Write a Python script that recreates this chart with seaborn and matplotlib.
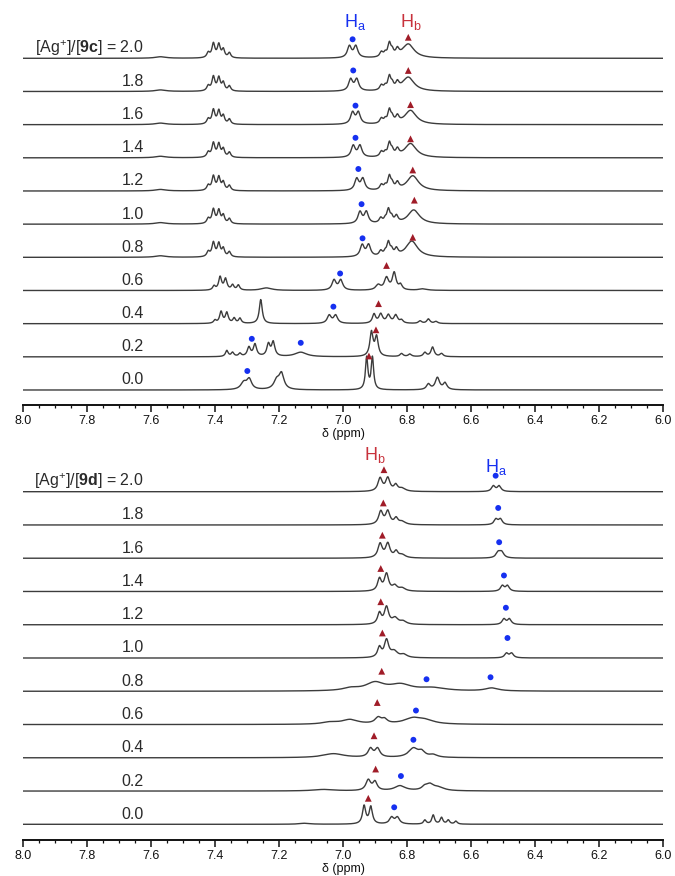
import numpy as np
import pandas as pd
import matplotlib
matplotlib.use("Agg")
import matplotlib.pyplot as plt
import seaborn as sns
from matplotlib.ticker import MultipleLocator, FormatStrFormatter

# ---------------- data ----------------
ratios = ["2.0", "1.8", "1.6", "1.4", "1.2", "1.0", "0.8", "0.6", "0.4", "0.2", "0.0"]

# peaks for compound 9c: (ppm, intensity, half width)
c_20 = [(7.57, 1.5, 0.02), (7.421, 5, 0.0055), (7.405, 14, 0.0055), (7.388, 13, 0.0055), (7.374, 8, 0.005),
        (7.355, 5, 0.005), (6.980, 11.5, 0.0075), (6.960, 11.5, 0.0075), (6.880, 5, 0.006), (6.868, 3.5, 0.005),
        (6.855, 13, 0.0055), (6.846, 5, 0.005), (6.830, 6.5, 0.006), (6.796, 14, 0.022)]
c_18 = [(7.57, 1.5, 0.02), (7.421, 5, 0.0055), (7.405, 14, 0.0055), (7.388, 13, 0.0055), (7.374, 8, 0.005),
        (7.355, 5, 0.005), (6.976, 11.5, 0.0075), (6.957, 11.5, 0.0075), (6.880, 5, 0.006), (6.868, 3.5, 0.005),
        (6.855, 13, 0.0055), (6.846, 5, 0.005), (6.830, 6.5, 0.006), (6.796, 14, 0.022)]
c_16 = [(7.57, 1.5, 0.02), (7.421, 5, 0.0055), (7.405, 14, 0.0055), (7.388, 13, 0.0055), (7.374, 8, 0.005),
        (7.355, 5, 0.005), (6.970, 11.5, 0.0075), (6.952, 11.5, 0.0075), (6.880, 5, 0.006), (6.868, 3.5, 0.005),
        (6.855, 13, 0.0055), (6.846, 5, 0.005), (6.830, 6.5, 0.006), (6.789, 14, 0.022)]
c_14 = [(7.57, 1.5, 0.02), (7.421, 5, 0.0055), (7.405, 14, 0.0055), (7.388, 13, 0.0055), (7.374, 8, 0.005),
        (7.355, 5, 0.005), (6.968, 11.5, 0.0075), (6.947, 11.5, 0.0075), (6.880, 5, 0.006), (6.868, 3.5, 0.005),
        (6.855, 13, 0.0055), (6.846, 5, 0.005), (6.830, 6.5, 0.006), (6.789, 14, 0.022)]
c_12 = [(7.57, 1.5, 0.02), (7.421, 5, 0.0055), (7.405, 14, 0.0055), (7.388, 13, 0.0055), (7.374, 8, 0.005),
        (7.355, 5, 0.005), (6.957, 11.5, 0.0075), (6.938, 11.5, 0.0075), (6.880, 5, 0.006), (6.868, 3.5, 0.005),
        (6.855, 13, 0.0055), (6.846, 5, 0.005), (6.830, 6.5, 0.006), (6.782, 15, 0.022)]
c_10 = [(7.57, 1.5, 0.02), (7.421, 5, 0.0055), (7.405, 14, 0.0055), (7.388, 13, 0.0055), (7.374, 8, 0.005),
        (7.355, 5, 0.005), (6.947, 11.5, 0.0075), (6.927, 11.5, 0.0075), (6.882, 5, 0.006), (6.868, 3.5, 0.005),
        (6.858, 13, 0.0055), (6.848, 5, 0.005), (6.833, 6.5, 0.006), (6.779, 14, 0.022)]
c_08 = [(7.57, 1.5, 0.02), (7.421, 5, 0.0055), (7.405, 14, 0.0055), (7.388, 13, 0.0055), (7.374, 8, 0.005),
        (7.355, 5, 0.005), (6.940, 11.5, 0.0075), (6.920, 11.5, 0.0075), (6.882, 5, 0.006), (6.868, 3.5, 0.005),
        (6.858, 13, 0.0055), (6.848, 5, 0.005), (6.833, 6.5, 0.006), (6.785, 16, 0.022)]
c_06 = [(7.403, 4, 0.005), (7.384, 13, 0.0055), (7.367, 11, 0.0055), (7.345, 5, 0.005), (7.327, 5, 0.005),
        (7.239, 2.5, 0.02), (7.028, 10, 0.0075), (7.007, 10, 0.0075), (6.890, 5, 0.009), (6.864, 12, 0.008),
        (6.840, 17, 0.007), (6.820, 5, 0.006), (6.75, 1.5, 0.015)]
c_04 = [(7.400, 3, 0.005), (7.381, 11.5, 0.0055), (7.363, 10.5, 0.0055), (7.340, 5, 0.005), (7.322, 5, 0.005),
        (7.257, 24, 0.0055), (7.043, 8, 0.0075), (7.023, 8, 0.0075), (6.903, 9, 0.006), (6.882, 9, 0.007),
        (6.858, 8, 0.007), (6.835, 8, 0.007), (6.817, 3, 0.006), (6.759, 2.5, 0.006), (6.733, 4.5, 0.006),
        (6.709, 2, 0.006)]
c_02 = [(7.363, 6, 0.005), (7.345, 4, 0.005), (7.322, 3, 0.005), (7.294, 9, 0.006), (7.275, 12, 0.006),
        (7.233, 12, 0.006), (7.218, 14, 0.006), (7.132, 4.5, 0.022), (6.911, 24, 0.006), (6.895, 19, 0.006),
        (6.817, 3, 0.006), (6.791, 2.5, 0.006), (6.744, 4, 0.006), (6.720, 9.5, 0.006), (6.692, 3, 0.006)]
c_00 = [(7.310, 7, 0.011), (7.293, 10, 0.009), (7.207, 9, 0.011), (7.192, 15, 0.009), (6.926, 32, 0.0045),
        (6.908, 32, 0.0045), (6.733, 5.5, 0.007), (6.705, 12, 0.008), (6.681, 6.5, 0.007)]

# peaks for compound 9d: (ppm, intensity, half width)
d_20 = [(6.884, 13, 0.008), (6.860, 13, 0.008), (6.835, 6, 0.007), (6.815, 3, 0.012),
        (6.530, 5.5, 0.007), (6.512, 5.5, 0.007)]
d_18 = [(6.882, 13, 0.008), (6.860, 13, 0.008), (6.834, 6, 0.007), (6.815, 3, 0.012),
        (6.522, 5.5, 0.007), (6.508, 5.5, 0.007)]
d_16 = [(6.884, 14, 0.008), (6.860, 14, 0.008), (6.834, 6, 0.007), (6.815, 3, 0.012),
        (6.515, 5.5, 0.008), (6.504, 5.5, 0.008)]
d_14 = [(6.886, 12, 0.007), (6.864, 17, 0.008), (6.838, 5, 0.009), (6.815, 3, 0.012),
        (6.502, 5.5, 0.007), (6.486, 5.5, 0.007)]
d_12 = [(6.886, 11, 0.007), (6.864, 17, 0.008), (6.837, 6, 0.011), (6.812, 3, 0.012),
        (6.497, 5.5, 0.007), (6.480, 5.5, 0.007)]
d_10 = [(6.886, 10, 0.007), (6.864, 17, 0.008), (6.840, 6, 0.013), (6.810, 3, 0.012),
        (6.489, 4.5, 0.007), (6.473, 4.5, 0.007)]
d_08 = [(6.975, 2.5, 0.03), (6.90, 8, 0.035), (6.82, 6, 0.04), (6.72, 3, 0.05), (6.535, 3, 0.025)]
d_06 = [(7.04, 2, 0.03), (6.978, 4.5, 0.03), (6.890, 6, 0.012), (6.870, 4, 0.01), (6.78, 6, 0.035),
        (6.74, 3, 0.03)]
d_04 = [(7.03, 4, 0.04), (6.914, 8.5, 0.009), (6.892, 8.5, 0.009), (6.780, 9, 0.018), (6.754, 5, 0.012),
        (6.718, 2.5, 0.015)]
d_02 = [(7.06, 1.5, 0.04), (6.921, 10.5, 0.009), (6.900, 8.5, 0.008), (6.822, 5, 0.02), (6.745, 3, 0.01),
        (6.728, 6, 0.015), (6.70, 3, 0.02)]
d_00 = [(7.12, 1, 0.02), (6.934, 18, 0.006), (6.913, 17, 0.006), (6.848, 6.5, 0.008), (6.830, 6.5, 0.008),
        (6.744, 4, 0.005), (6.718, 9, 0.005), (6.692, 6.5, 0.005), (6.671, 4, 0.005), (6.647, 3, 0.005)]

# markers: spectrum index (0 = ratio 2.0), ppm, height above baseline
ha_c_idx = [0, 1, 2, 3, 4, 5, 6, 7, 8, 9, 9, 10]
ha_c_ppm = [6.970, 6.968, 6.961, 6.961, 6.952, 6.942, 6.939, 7.009, 7.030, 7.285, 7.132, 7.299]
ha_c_h = [19, 21, 19, 20, 22, 20, 19, 17, 17, 18, 14, 19]
hb_c_idx = [0, 1, 2, 3, 4, 5, 6, 7, 8, 9, 10]
hb_c_ppm = [6.796, 6.796, 6.789, 6.789, 6.782, 6.777, 6.782, 6.864, 6.889, 6.897, 6.919]
hb_c_h = [21, 21, 20, 19, 21, 24, 20, 25, 20, 27, 34]

ha_d_idx = [0, 1, 2, 3, 4, 5, 6, 6, 7, 8, 9, 10]
ha_d_ppm = [6.523, 6.515, 6.512, 6.497, 6.491, 6.486, 6.739, 6.539, 6.772, 6.780, 6.819, 6.840]
ha_d_h = [16, 17, 16, 16, 17, 20, 12, 14, 14, 18, 15, 17]
hb_d_idx = [0, 1, 2, 3, 4, 5, 6, 7, 8, 9, 10]
hb_d_ppm = [6.872, 6.874, 6.877, 6.882, 6.882, 6.877, 6.879, 6.893, 6.903, 6.898, 6.921]
hb_d_h = [22, 22, 23, 23, 23, 25, 20, 22, 22, 22, 26]

peaks_c = [c_20, c_18, c_16, c_14, c_12, c_10, c_08, c_06, c_04, c_02, c_00]
peaks_d = [d_20, d_18, d_16, d_14, d_12, d_10, d_08, d_06, d_04, d_02, d_00]

# ---------------- style ----------------
sns.set_style("ticks")
plt.rcParams["font.family"] = ["Liberation Sans", "DejaVu Sans"]
plt.rcParams["mathtext.fontset"] = "custom"
plt.rcParams["mathtext.rm"] = "Liberation Sans"
plt.rcParams["mathtext.it"] = "Liberation Sans:italic"
plt.rcParams["mathtext.bf"] = "Liberation Sans:bold"

LINE = "#3c3c3c"
BLUE = "#1630f0"
DRED = "#a01c28"
RED = "#c8323c"

W, H = 675, 876
fig = plt.figure(figsize=(W / 100, H / 100), dpi=100)

x = np.linspace(6.0, 8.0, 4001)


def spectrum(peaks):
    y = np.zeros_like(x)
    for p, h, w in peaks:
        y += h * w ** 2 / ((x - p) ** 2 + w ** 2)
    return y


def panel(top_px, bot_px, base0_px, spacing, peaks, cmpd, ha_idx, ha_ppm, ha_h, hb_idx, hb_ppm, hb_h,
          ha_lab, hb_lab):
    ax = fig.add_axes([23 / W, (H - bot_px) / H, 640 / W, (bot_px - top_px) / H])
    n = len(peaks)
    offs = [(n - 1 - k) * spacing for k in range(n)]
    for k, pk in enumerate(peaks):
        df = pd.DataFrame({"ppm": x, "I": spectrum(pk) + offs[k]})
        sns.lineplot(data=df, x="ppm", y="I", ax=ax, color=LINE, lw=1.0, estimator=None, sort=False)
        lab = ratios[k] if k > 0 else r"[Ag$^{+}$]/[$\mathbf{" + cmpd + "}$] = " + ratios[k]
        ax.text(7.623, offs[k] + 5.5, lab, ha="right", va="baseline", fontsize=11.5, color="#2a2a2a")
    dfa = pd.DataFrame({"ppm": ha_ppm, "I": [offs[i] + h for i, h in zip(ha_idx, ha_h)]})
    dfb = pd.DataFrame({"ppm": hb_ppm, "I": [offs[i] + h for i, h in zip(hb_idx, hb_h)]})
    sns.scatterplot(data=dfa, x="ppm", y="I", ax=ax, color=BLUE, marker="o", s=18, edgecolor="none", zorder=5)
    sns.scatterplot(data=dfb, x="ppm", y="I", ax=ax, color=DRED, marker="^", s=24, edgecolor="none", zorder=5)
    ax.text(ha_lab[0], offs[0] + ha_lab[1], r"H$_\mathrm{a}$", color=BLUE, fontsize=13, ha="center", va="center")
    ax.text(hb_lab[0], offs[0] + hb_lab[1], r"H$_\mathrm{b}$", color=RED, fontsize=13, ha="center", va="center")

    ax.set_xlim(8.0, 6.0)
    ax.set_ylim(-(bot_px - base0_px), base0_px - top_px)
    for s in ["top", "right", "left"]:
        ax.spines[s].set_visible(False)
    ax.spines["bottom"].set_linewidth(1.4)
    ax.spines["bottom"].set_color("#111111")
    ax.set_yticks([])
    ax.xaxis.set_major_locator(MultipleLocator(0.2))
    ax.xaxis.set_minor_locator(MultipleLocator(0.05))
    ax.xaxis.set_major_formatter(FormatStrFormatter("%.1f"))
    ax.tick_params(axis="x", which="major", direction="out", length=5, width=1.1, labelsize=9, pad=2,
                   colors="#111111")
    ax.tick_params(axis="x", which="minor", direction="out", length=2.5, width=0.9, colors="#111111")
    ax.set_xlabel("δ (ppm)", fontsize=9, labelpad=1, color="#111111")
    ax.set_ylabel("")
    return ax


panel(0, 405, 390, 33.17, peaks_c, "9c", ha_c_idx, ha_c_ppm, ha_c_h, hb_c_idx, hb_c_ppm, hb_c_h,
      (6.963, 36.5), (6.788, 36.5))
panel(440, 840, 824.3, 33.26, peaks_d, "9d", ha_d_idx, ha_d_ppm, ha_d_h, hb_d_idx, hb_d_ppm, hb_d_h,
      (6.522, 25), (6.900, 37))

fig.savefig("out.png", dpi=100)
